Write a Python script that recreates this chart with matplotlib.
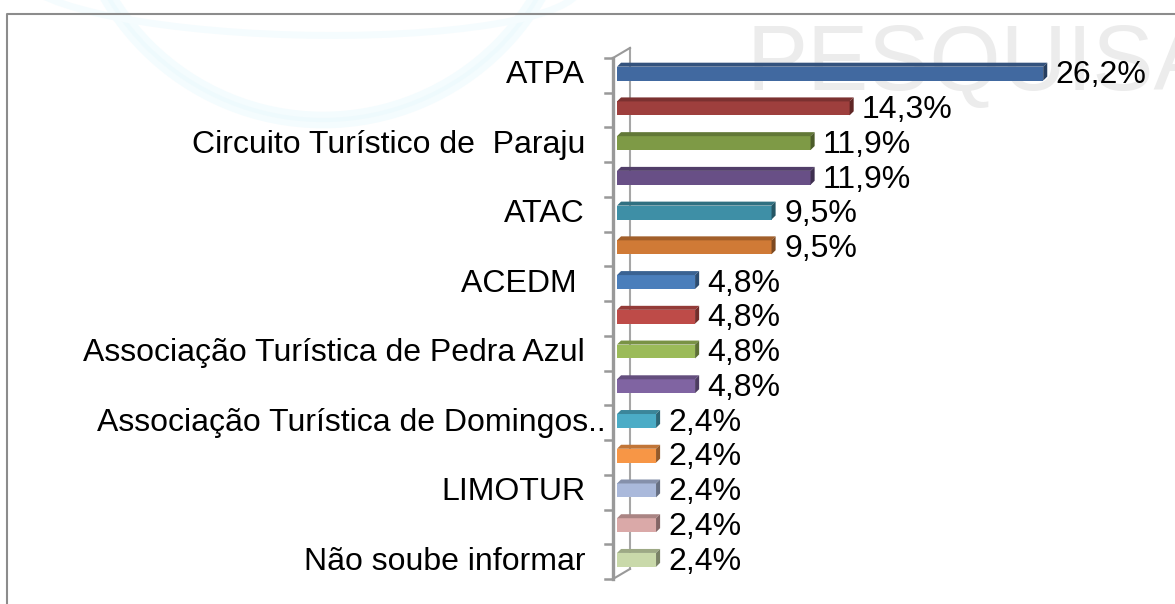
import matplotlib
matplotlib.use("Agg")
import matplotlib.pyplot as plt
import matplotlib.colors as mcolors
from matplotlib.patches import Polygon, Ellipse
from matplotlib.lines import Line2D

plt.rcParams['font.family'] = ['Liberation Sans', 'DejaVu Sans']

# data
labels = ["ATPA", "", "Circuito Turístico de  Paraju", "", "ATAC", "",
          "ACEDM ", "", "Associação Turística de Pedra Azul", "",
          "Associação Turística de Domingos..", "", "LIMOTUR", "",
          "Não soube informar"]
values = [26.2, 14.3, 11.9, 11.9, 9.5, 9.5, 4.8, 4.8, 4.8, 4.8,
          2.4, 2.4, 2.4, 2.4, 2.4]
value_text = ["26,2%", "14,3%", "11,9%", "11,9%", "9,5%", "9,5%", "4,8%", "4,8%",
              "4,8%", "4,8%", "2,4%", "2,4%", "2,4%", "2,4%", "2,4%"]
colors = ["#4169A0", "#9E3F3D", "#7E9A46", "#684F86", "#3E8FA6", "#D07A36",
          "#4A7EBB", "#BE4B48", "#9BBB59", "#8064A2", "#4BACC6", "#F79646",
          "#AAB9DB", "#DAA9A8", "#C9D9AA"]

W, H = 1175, 604
fig = plt.figure(figsize=(W / 100, H / 100), dpi=100)
fig.patch.set_facecolor("white")

# background decoration: faint globe arcs and watermark
fig.patches.append(Ellipse((323 / W, 1 + 129 / H), 498 / W, 498 / H, transform=fig.transFigure,
                           fill=False, edgecolor="#f4fcfe", lw=12, zorder=-2))
fig.patches.append(Ellipse((323 / W, 1 + 129 / H), 498 / W, 498 / H, transform=fig.transFigure,
                           fill=False, edgecolor="#eefafd", lw=3, zorder=-2))
fig.patches.append(Ellipse((300 / W, 1 + 20 / H), 560 / W, 110 / H, angle=-3, transform=fig.transFigure,
                           fill=False, edgecolor="#f5fcfe", lw=5, zorder=-2))
fig.text(746 / W, 1 - 90 / H, "PESQUISA", fontsize=66, color="#ececec",
         ha="left", va="baseline", zorder=-1)

# outer frame
fig.lines.append(Line2D([7 / W, 7 / W, 1], [0, 1 - 14 / H, 1 - 14 / H], transform=fig.transFigure,
                        color="#8c8c8c", lw=1.5, zorder=-1))

ax = fig.add_axes([617 / W, 25 / H, 488 / W, 521 / H])
ax.set_facecolor("none")
ax.set_xlim(0, 30)
ax.set_ylim(len(values) - 0.5, -0.5)
ax.axis("off")

n = len(values)
ypos = list(range(n))
shift = -0.05
bar_h = 0.4
ddx, ddy = 0.25, 0.115   # 3D depth of the bars

# wall (3D axis)
wall_dx, wall_dy = 0.8, 0.29
ax.plot([wall_dx, wall_dx], [-0.5 - wall_dy, n - 0.5 - wall_dy], color="#a6a6a6", lw=1.5,
        clip_on=False, zorder=1)
ax.plot([-0.25, -0.25], [-0.5, n - 0.5], color="#999999", lw=2.4, clip_on=False, zorder=3)
ax.plot([-0.25, wall_dx], [-0.5, -0.5 - wall_dy], color="#999999", lw=1.5, clip_on=False, zorder=3)
ax.plot([-0.25, wall_dx], [n - 0.5, n - 0.5 - wall_dy], color="#999999", lw=1.5, clip_on=False, zorder=3)
for k in range(n + 1):
    ax.plot([-0.74, -0.25], [k - 0.5, k - 0.5], color="#999999", lw=1.8, clip_on=False, zorder=3)

ax.barh([y + shift for y in ypos], values, height=bar_h, color=colors, zorder=2)

for y, v, c in zip(ypos, values, colors):
    rgb = mcolors.to_rgb(c)
    top = tuple(ch * 0.78 for ch in rgb)
    cap = tuple(ch * 0.6 for ch in rgb)
    y0 = y + shift - bar_h / 2
    y1 = y + shift + bar_h / 2
    ax.add_patch(Polygon([(0, y0), (v, y0), (v + ddx, y0 - ddy), (ddx, y0 - ddy)],
                         closed=True, facecolor=top, edgecolor="none", zorder=2))
    ax.add_patch(Polygon([(v, y0), (v + ddx, y0 - ddy), (v + ddx, y1 - ddy), (v, y1)],
                         closed=True, facecolor=cap, edgecolor="none", zorder=2))

for y, v, t in zip(ypos, values, value_text):
    ax.annotate(t, (v, y), xytext=(9, 0), textcoords="offset points",
                ha="left", va="center", fontsize=23, color="black")

for y, lab in zip(ypos, labels):
    if lab:
        # truncated label runs closer to the axis in the original
        off = -8 if lab.endswith("..") else -23
        ax.annotate(lab, (0, y), xytext=(off, 0), textcoords="offset points",
                    ha="right", va="center", fontsize=23, color="black",
                    annotation_clip=False)

fig.savefig("out.png", dpi=100)
